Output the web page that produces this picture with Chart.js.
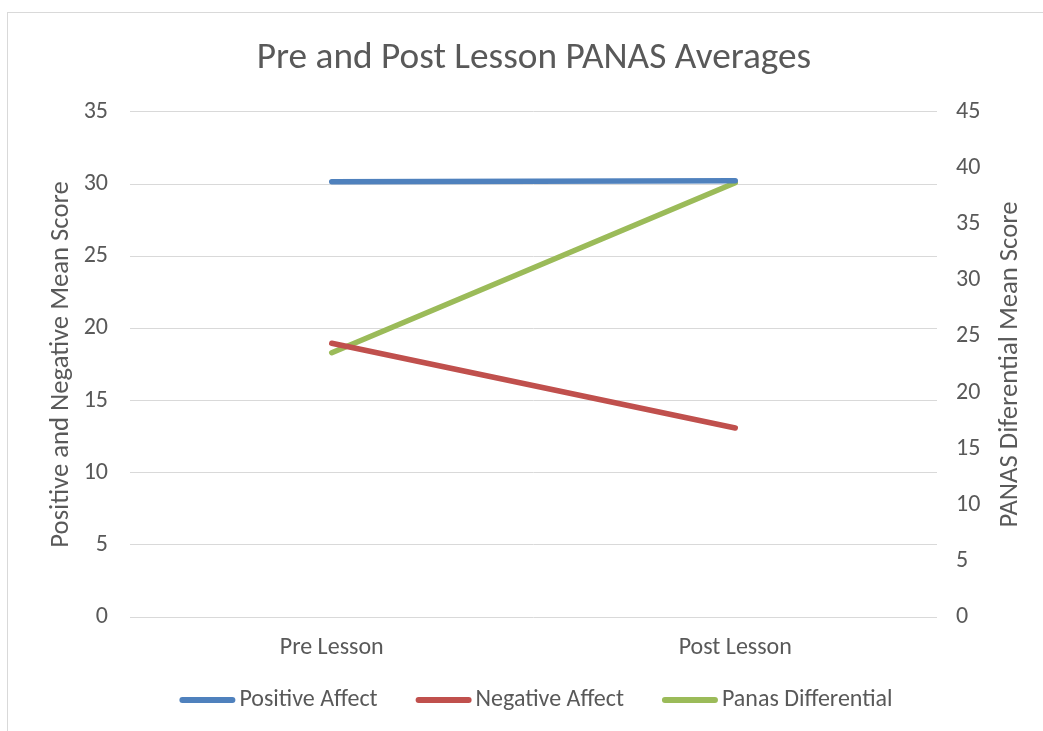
<!DOCTYPE html>
<html>
<head>
<meta charset="utf-8">
<script src="https://cdn.jsdelivr.net/npm/chart.js@4"></script>
<style>
    html, body { margin: 0; padding: 0; background: #fff; overflow: hidden; }
    #wrap { position: relative; width: 1043px; height: 731px; }
    #frame { position: absolute; left: 7px; top: 12px; width: 1100px; height: 800px; border: 1px solid #d9d9d9; }
    canvas { position: absolute; left: 0; top: 0; }
</style>
</head>
<body>
<div id="wrap">
    <div id="frame"></div>
    <canvas id="panasChart" width="1043" height="731"></canvas>
</div>
<script>
// ====================== DATA ======================
const categories = ['Pre Lesson', 'Post Lesson'];
const positiveAffect = [30.17, 30.24];
const negativeAffect = [18.97, 13.1];
const panasDifferential = [23.55, 38.7];

const leftTicks = { min: 0, max: 35, step: 5 };
const rightTicks = { min: 0, max: 45, step: 5 };

const FONT = 'Carlito, Lato, "Open Sans", sans-serif';
const TEXT = '#595959';
const GRID = '#d9d9d9';

// legend + right axis title drawn by hand (Excel style)
const excelExtras = {
    id: 'excelExtras',
    afterDraw(chart) {
        const { ctx, chartArea } = chart;
        ctx.save();

        // right axis title, reads bottom to top
        ctx.font = '26.7px ' + FONT;
        ctx.fillStyle = TEXT;
        ctx.textAlign = 'center';
        ctx.textBaseline = 'middle';
        ctx.translate(1010, (chartArea.top + chartArea.bottom) / 2);
        ctx.rotate(-Math.PI / 2);
        ctx.fillText('PANAS Diferential Mean Score', 0, 0);
        ctx.setTransform(1, 0, 0, 1, 0, 0);

        // legend
        ctx.font = '24px ' + FONT;
        const sample = 56, gapText = 4, gapItem = 38, y = 700;
        const items = chart.data.datasets.map(ds => ({
            text: ds.label, color: ds.borderColor, w: sample + gapText + ctx.measureText(ds.label).width
        }));
        const total = items.reduce((s, it) => s + it.w, 0) + gapItem * (items.length - 1);
        let x = 536 - total / 2;
        ctx.textAlign = 'left';
        ctx.lineCap = 'round';
        ctx.lineWidth = 6;
        items.forEach(it => {
            ctx.strokeStyle = it.color;
            ctx.beginPath();
            ctx.moveTo(x + 3, y);
            ctx.lineTo(x + sample - 3, y);
            ctx.stroke();
            ctx.fillText(it.text, x + sample + gapText, y);
            x += it.w + gapItem;
        });
        ctx.restore();
    }
};

const ctx = document.getElementById('panasChart').getContext('2d');

new Chart(ctx, {
    type: 'line',
    data: {
        labels: categories,
        datasets: [
            { label: 'Positive Affect',    data: positiveAffect,    borderColor: '#4f81bd', yAxisID: 'y' },
            { label: 'Negative Affect',    data: negativeAffect,    borderColor: '#c0504d', yAxisID: 'y' },
            { label: 'Panas Differential', data: panasDifferential, borderColor: '#9bbb59', yAxisID: 'y1' }
        ].map(ds => ({ ...ds, backgroundColor: ds.borderColor, borderWidth: 5.5, borderCapStyle: 'round', pointRadius: 0, tension: 0 }))
    },
    options: {
        responsive: false,
        animation: false,
        layout: { padding: { left: 25, right: 0, top: 0, bottom: 60 } },
        plugins: {
            legend: { display: false },
            tooltip: { enabled: false },
            title: {
                display: true,
                text: 'Pre and Post Lesson PANAS Averages',
                color: TEXT,
                font: { family: FONT, size: 37.3, weight: 'normal' },
                padding: { top: 36.5, bottom: 30.7 }
            }
        },
        scales: {
            x: {
                offset: true,
                grid: { display: false, drawTicks: false },
                border: { display: false },
                ticks: { color: TEXT, font: { family: FONT, size: 24 }, padding: 16.6, maxRotation: 0 },
                afterFit: s => { s.height = 54; }
            },
            y: {
                position: 'left',
                min: leftTicks.min, max: leftTicks.max,
                ticks: { stepSize: leftTicks.step, color: TEXT, font: { family: FONT, size: 24 }, padding: 22 },
                grid: { color: GRID, lineWidth: 1, drawTicks: false },
                border: { display: false },
                title: {
                    display: true,
                    text: 'Positive and Negative Mean Score',
                    color: TEXT,
                    font: { family: FONT, size: 26.7 },
                    padding: { top: 20, bottom: 0 }
                },
                afterFit: s => { s.width = 105; }
            },
            y1: {
                position: 'right',
                min: rightTicks.min, max: rightTicks.max,
                ticks: { stepSize: rightTicks.step, color: TEXT, font: { family: FONT, size: 24 }, padding: 19 },
                grid: { display: false, drawTicks: false },
                border: { display: false },
                afterFit: s => { s.width = 106; }
            }
        }
    },
    plugins: [excelExtras]
});
</script>
</body>
</html>
